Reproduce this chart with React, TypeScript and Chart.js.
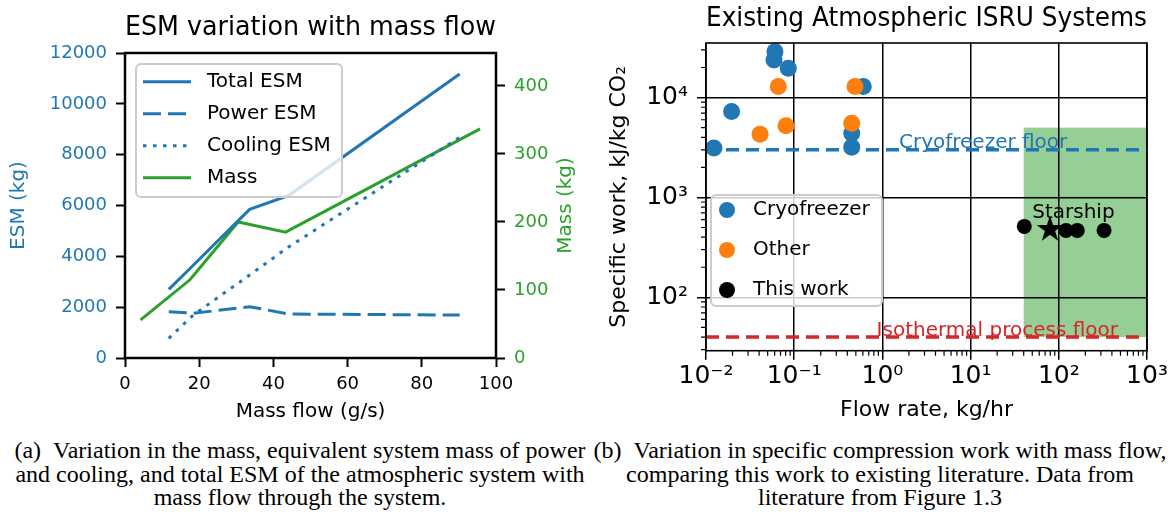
import React, { useEffect, useRef } from 'react';
import { Chart, registerables } from 'chart.js';
Chart.register(...registerables);

// ---------- Left chart data ----------
const esmFlow = [11.8, 18.4, 33.6, 44.2, 90.2];
const totalEsm = [2700, 3650, 5850, 6400, 11170];
const powerEsm = [1820, 1760, 2020, 1730, 1690];
const coolingEsm = [775, 1690, 3265, 4380, 8680];
const massFlow = [4.2, 17.5, 30.5, 43.3, 95.7];
const massKg = [56, 115, 200, 185, 337];

// ---------- Right chart data ----------
const cryoFlow = [0.0605, 0.059, 0.0857, 0.607, 0.0195, 0.449, 0.449, 0.0123];
const cryoWork = [28850, 23800, 19680, 12890, 7245, 4405, 3190, 3120];
const otherFlow = [0.066, 0.489, 0.041, 0.0807, 0.449];
const otherWork = [12890, 12890, 4305, 5212, 5546];
const thisFlow = [40.6, 120.8, 162, 326];
const thisWork = [513, 468, 468, 468];
const starshipFlow = [79.4];
const starshipWork = [494];
const cryoFloor = 3000;
const isoFloor = 40;
const regionFlow = [40, 1000];
const regionWork = [40, 5000];
const flowRange = [0.01, 1000];
const workRange = [29.2, 35200];

const captionA = [
  '(a)\u2002Variation in the mass, equivalent system mass of power',
  'and cooling, and total ESM of the atmospheric system with',
  'mass flow through the system.',
];
const captionB = [
  '(b)\u2002Variation in specific compression work with mass flow,',
  'comparing this work to existing literature. Data from',
  'literature from Figure 1.3',
];

const BLUE = '#1f77b4';
const GREEN = '#2ca02c';
const ORANGE = '#ff7f0e';
const RED = '#d62728';
const FONT = '"DejaVu Sans", sans-serif';

const pts = (xs: number[], ys: number[]) => xs.map((x, i) => ({ x, y: ys[i] }));
const isDecade = (v: number) => v > 0 && Math.abs(Math.log10(v) - Math.round(Math.log10(v))) < 1e-9;
const SUP: Record<string, string> = { '-': '\u207b', '0': '\u2070', '1': '\u00b9', '2': '\u00b2', '3': '\u00b3', '4': '\u2074', '5': '\u2075', '6': '\u2076', '7': '\u2077', '8': '\u2078', '9': '\u2079' };
const pow10Label = (v: number) => {
  const e = String(Math.round(Math.log10(v)));
  return '10' + e.split('').map((c) => SUP[c] || c).join('');
};
const logTicks = (lo: number, hi: number) => {
  const out: number[] = [];
  for (let e = Math.floor(Math.log10(lo)); e <= Math.ceil(Math.log10(hi)); e++) {
    for (let m = 1; m <= 9; m++) {
      const v = parseFloat((m * Math.pow(10, e)).toPrecision(6));
      if (v >= lo * 0.999999 && v <= hi * 1.000001) out.push(v);
    }
  }
  return out;
};

const leftDecor = {
  id: 'leftDecor',
  afterDatasetsDraw(chart: any) {
    const { ctx, chartArea: a } = chart;
    ctx.save();
    ctx.strokeStyle = '#000';
    ctx.lineWidth = 2.5;
    ctx.strokeRect(a.left, a.top, a.right - a.left, a.bottom - a.top);
    // legend
    const bx = a.left + 11, by = a.top + 11, bw = 206, bh = 133;
    ctx.beginPath();
    ctx.roundRect(bx, by, bw, bh, 5);
    ctx.fillStyle = 'rgba(255,255,255,0.8)';
    ctx.fill();
    ctx.strokeStyle = '#cccccc';
    ctx.lineWidth = 2;
    ctx.stroke();
    chart.data.datasets.forEach((ds: any, i: number) => {
      const y = by + 17.7 + i * 32;
      ctx.beginPath();
      ctx.setLineDash(ds.borderDash || []);
      ctx.strokeStyle = ds.borderColor;
      ctx.lineWidth = ds.borderWidth;
      ctx.moveTo(bx + 7, y);
      ctx.lineTo(bx + 55, y);
      ctx.stroke();
      ctx.setLineDash([]);
      ctx.fillStyle = '#000';
      ctx.font = '20px ' + FONT;
      ctx.textBaseline = 'middle';
      ctx.textAlign = 'left';
      ctx.fillText(ds.label, bx + 71, y);
    });
    // right axis title
    ctx.translate(566, (a.top + a.bottom) / 2);
    ctx.rotate(-Math.PI / 2);
    ctx.textAlign = 'center';
    ctx.textBaseline = 'middle';
    ctx.fillStyle = GREEN;
    ctx.font = '20px ' + FONT;
    ctx.fillText('Mass (kg)', 0, 0);
    ctx.restore();
  },
};

function LeftChart() {
  const ref = useRef<HTMLCanvasElement>(null);
  useEffect(() => {
    const tickGrid = { drawOnChartArea: false, tickLength: 9, tickColor: '#000', tickWidth: 2 };
    const chart = new Chart(ref.current as HTMLCanvasElement, {
      type: 'line',
      data: {
        datasets: [
          { label: 'Total ESM', data: pts(esmFlow, totalEsm), borderColor: BLUE, borderWidth: 3, yAxisID: 'y' },
          { label: 'Power ESM', data: pts(esmFlow, powerEsm), borderColor: BLUE, borderWidth: 3, borderDash: [18, 7], yAxisID: 'y' },
          { label: 'Cooling ESM', data: pts(esmFlow, coolingEsm), borderColor: BLUE, borderWidth: 3, borderDash: [3.5, 6.5], yAxisID: 'y' },
          { label: 'Mass', data: pts(massFlow, massKg), borderColor: GREEN, borderWidth: 3, yAxisID: 'y1' },
        ] as any,
      },
      options: {
        animation: false,
        responsive: false,
        elements: { point: { radius: 0 }, line: { tension: 0, borderCapStyle: 'butt' } },
        plugins: {
          legend: { display: false },
          tooltip: { enabled: false },
          title: { display: true, text: 'ESM variation with mass flow', color: '#000', font: { size: 26, family: FONT, weight: 'normal' }, padding: { top: 13, bottom: 8.8 }, fullSize: false },
        },
        scales: {
          x: {
            type: 'linear', min: 0, max: 100,
            ticks: { stepSize: 20, color: '#000', font: { size: 18, family: FONT }, padding: 7, callback: (v: any) => String(v) },
            grid: tickGrid, border: { display: false },
            title: { display: true, text: 'Mass flow (g/s)', color: '#000', font: { size: 20, family: FONT }, padding: { top: 0, bottom: 1 } },
            afterFit: (s: any) => { s.height = 67; },
          },
          y: {
            type: 'linear', position: 'left', min: 0, max: 12000,
            ticks: { stepSize: 2000, color: BLUE, font: { size: 18, family: FONT }, padding: 9, callback: (v: any) => String(v) },
            grid: tickGrid, border: { display: false },
            title: { display: true, text: 'ESM (kg)', color: BLUE, font: { size: 20, family: FONT }, padding: { top: 7, bottom: 0 } },
            afterFit: (s: any) => { s.width = 125; },
          },
          y1: {
            type: 'linear', position: 'right', min: 0, max: 448.5,
            ticks: { stepSize: 100, includeBounds: false, color: GREEN, font: { size: 18, family: FONT }, padding: 9, callback: (v: any) => String(v) },
            grid: tickGrid, border: { display: false },
            afterFit: (s: any) => { s.width = 89; },
          },
        },
      } as any,
      plugins: [leftDecor],
    });
    return () => chart.destroy();
  }, []);
  return <canvas ref={ref} width={585} height={425} style={{ position: 'absolute', left: 0, top: 0 }} />;
}

function makeStar(r: number) {
  const c = document.createElement('canvas');
  const s = Math.ceil(r * 2 + 2);
  c.width = s;
  c.height = s;
  const g = c.getContext('2d') as CanvasRenderingContext2D;
  g.translate(s / 2, s / 2 + r * 0.1);
  g.beginPath();
  for (let k = 0; k < 10; k++) {
    const rad = k % 2 === 0 ? r : r * 0.382;
    const ang = -Math.PI / 2 + (k * Math.PI) / 5;
    g.lineTo(rad * Math.cos(ang), rad * Math.sin(ang));
  }
  g.closePath();
  g.fillStyle = '#000';
  g.fill();
  return c;
}

const rightDecor = {
  id: 'rightDecor',
  beforeDraw(chart: any) {
    const { ctx, scales } = chart;
    const x0 = scales.x.getPixelForValue(regionFlow[0]);
    const x1 = scales.x.getPixelForValue(regionFlow[1]);
    const y0 = scales.y.getPixelForValue(regionWork[1]);
    const y1 = scales.y.getPixelForValue(regionWork[0]);
    ctx.save();
    ctx.fillStyle = 'rgba(44,160,44,0.5)';
    ctx.fillRect(x0, y0, x1 - x0, y1 - y0);
    ctx.restore();
  },
  afterDatasetsDraw(chart: any) {
    const { ctx, chartArea: a, scales } = chart;
    ctx.save();
    // minor ticks
    ctx.strokeStyle = '#000';
    ctx.lineWidth = 1.2;
    ctx.beginPath();
    scales.x.ticks.forEach((t: any) => {
      if (isDecade(t.value)) return;
      const px = scales.x.getPixelForValue(t.value);
      ctx.moveTo(px, a.bottom);
      ctx.lineTo(px, a.bottom + 5);
    });
    scales.y.ticks.forEach((t: any) => {
      if (isDecade(t.value)) return;
      const py = scales.y.getPixelForValue(t.value);
      ctx.moveTo(a.left, py);
      ctx.lineTo(a.left - 5, py);
    });
    ctx.stroke();
    // frame
    ctx.lineWidth = 1.6;
    ctx.strokeRect(a.left, a.top, a.right - a.left, a.bottom - a.top);
    // annotations
    ctx.font = '20px ' + FONT;
    ctx.textAlign = 'left';
    ctx.textBaseline = 'alphabetic';
    ctx.fillStyle = BLUE;
    ctx.fillText('Cryofreezer floor', scales.x.getPixelForValue(1.54), scales.y.getPixelForValue(cryoFloor) - 2);
    ctx.fillStyle = RED;
    ctx.fillText('Isothermal process floor', scales.x.getPixelForValue(0.86), scales.y.getPixelForValue(isoFloor) - 1);
    ctx.fillStyle = '#000';
    ctx.fillText('Starship', scales.x.getPixelForValue(50), scales.y.getPixelForValue(620));
    // legend
    const bx = a.left + 5, by = a.top + 152, bw = 171, bh = 111;
    ctx.beginPath();
    ctx.roundRect(bx, by, bw, bh, 5);
    ctx.fillStyle = 'rgba(255,255,255,0.8)';
    ctx.fill();
    ctx.strokeStyle = '#cccccc';
    ctx.lineWidth = 2;
    ctx.stroke();
    const order = ['Cryofreezer', 'Other', 'This work'];
    order.forEach((lab, i) => {
      const ds = chart.data.datasets.find((d: any) => d.label === lab);
      const y = by + 15 + i * 40;
      ctx.beginPath();
      ctx.arc(bx + 16, y, 8, 0, Math.PI * 2);
      ctx.fillStyle = ds.backgroundColor;
      ctx.fill();
      ctx.fillStyle = '#000';
      ctx.textBaseline = 'middle';
      ctx.fillText(lab, bx + 42, y);
    });
    ctx.restore();
  },
};

function RightChart() {
  const ref = useRef<HTMLCanvasElement>(null);
  useEffect(() => {
    const gridOpts = {
      drawOnChartArea: true,
      tickLength: 9,
      lineWidth: 1.5,
      color: (c: any) => (c.tick && isDecade(c.tick.value) ? '#000' : 'rgba(0,0,0,0)'),
      tickColor: (c: any) => (c.tick && isDecade(c.tick.value) ? '#000' : 'rgba(0,0,0,0)'),
      tickWidth: 1.5,
    };
    const chart = new Chart(ref.current as HTMLCanvasElement, {
      type: 'scatter',
      data: {
        datasets: [
          { label: 'Starship', data: pts(starshipFlow, starshipWork), pointStyle: makeStar(14), backgroundColor: '#000', order: -1 },
          { label: 'This work', data: pts(thisFlow, thisWork), backgroundColor: '#000', borderWidth: 0, pointRadius: 7.5, order: 0 },
          { label: 'Other', data: pts(otherFlow, otherWork), backgroundColor: ORANGE, borderWidth: 0, pointRadius: 8.5, order: 1 },
          { label: 'Cryofreezer', data: pts(cryoFlow, cryoWork), backgroundColor: BLUE, borderWidth: 0, pointRadius: 8.5, order: 2 },
          { type: 'line', label: 'cryoFloor', data: pts(flowRange, [cryoFloor, cryoFloor]), borderColor: BLUE, borderWidth: 3.5, borderDash: [13, 7], pointRadius: 0, order: 5 },
          { type: 'line', label: 'isoFloor', data: pts(flowRange, [isoFloor, isoFloor]), borderColor: RED, borderWidth: 3.5, borderDash: [13, 7], pointRadius: 0, order: 5 },
        ] as any,
      },
      options: {
        animation: false,
        responsive: false,
        layout: { padding: { right: 26 } },
        plugins: {
          legend: { display: false },
          tooltip: { enabled: false },
          title: { display: true, text: 'Existing Atmospheric ISRU Systems', color: '#000', font: { size: 26, family: FONT, weight: 'normal' }, padding: { top: 3.5, bottom: 8.3 }, fullSize: false },
        },
        scales: {
          x: {
            type: 'logarithmic', min: flowRange[0], max: flowRange[1],
            afterBuildTicks: (s: any) => { s.ticks = logTicks(flowRange[0], flowRange[1]).map((v) => ({ value: v })); },
            ticks: { autoSkip: false, maxRotation: 0, color: '#000', font: { size: 25, family: FONT }, padding: 2, callback: (v: any) => (isDecade(v) ? pow10Label(v) : '') },
            grid: gridOpts, border: { display: false },
            title: { display: true, text: 'Flow rate, kg/hr', color: '#000', font: { size: 22, family: FONT }, padding: { top: 0, bottom: 2 } },
            afterFit: (s: any) => { s.height = 74.3; },
          },
          y: {
            type: 'logarithmic', min: workRange[0], max: workRange[1],
            afterBuildTicks: (s: any) => { s.ticks = logTicks(workRange[0], workRange[1]).map((v) => ({ value: v })); },
            ticks: { autoSkip: false, color: '#000', font: { size: 25, family: FONT }, padding: 9, callback: (v: any) => (isDecade(v) ? pow10Label(v) : '') },
            grid: gridOpts, border: { display: false },
            title: { display: true, text: 'Specific work, kJ/kg CO\u2082', color: '#000', font: { size: 22, family: FONT }, padding: { top: 21, bottom: 0 } },
            afterFit: (s: any) => { s.width = 121; },
          },
        },
      } as any,
      plugins: [rightDecor],
    });
    return () => chart.destroy();
  }, []);
  return <canvas ref={ref} width={588} height={425} style={{ position: 'absolute', left: 585, top: 0 }} />;
}

function Caption({ lines, center }: { lines: string[]; center: number }) {
  return (
    <>
      {lines.map((t, i) => (
        <div
          key={i}
          style={{
            position: 'absolute',
            left: center - 300,
            width: 600,
            top: 438 + i * 23.5,
            textAlign: 'center',
            whiteSpace: 'nowrap',
            fontFamily: '"Liberation Serif", serif',
            fontSize: 24,
            lineHeight: '24px',
            color: '#000',
          }}
        >
          {t}
        </div>
      ))}
    </>
  );
}

export default function App() {
  return (
    <div style={{ position: 'absolute', left: 0, top: 0, width: 1173, height: 515, background: '#fff', overflow: 'hidden' }}>
      <LeftChart />
      <RightChart />
      <Caption lines={captionA} center={300} />
      <Caption lines={captionB} center={880} />
    </div>
  );
}
